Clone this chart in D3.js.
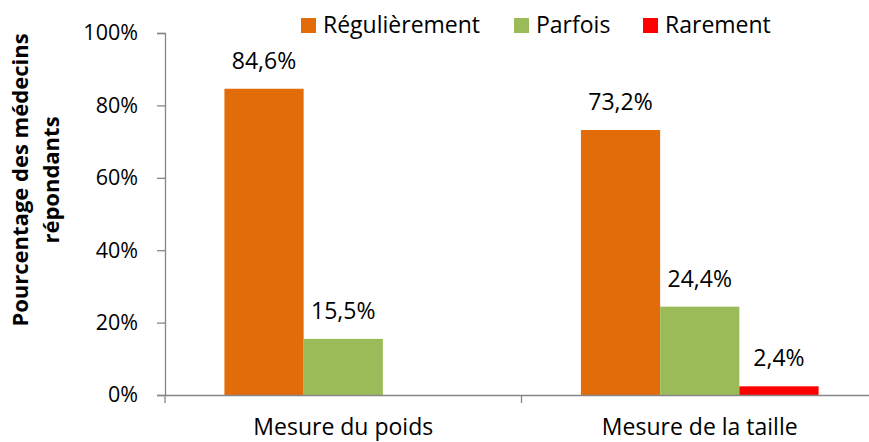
<!DOCTYPE html>
<html>
<head>
<meta charset="utf-8">
<script src="https://cdn.jsdelivr.net/npm/d3@7"></script>
<style>
  html, body { margin: 0; padding: 0; background: #fff; }
  svg { display: block; font-family: "Open Sans", "Noto Sans", sans-serif; }
</style>
</head>
<body>
<div id="chart"></div>
<script>
const categories = ['Mesure du poids', 'Mesure de la taille'];
const seriesNames = ['Régulièrement', 'Parfois', 'Rarement'];
const seriesColors = ['#E36C0A', '#9BBB59', '#FF0000'];
const regulierement = [84.6, 73.2];
const parfois = [15.5, 24.4];
const rarement = [null, 2.4];
const yTicks = [0, 20, 40, 60, 80, 100];

const width = 869, height = 442;
const margin = { top: 33, right: -9, bottom: 47, left: 165 };
const font = '"Open Sans", "Noto Sans", sans-serif';

const svg = d3.select('#chart').append('svg')
  .attr('width', width)
  .attr('height', height);

const values = [regulierement, parfois, rarement];
const rows = categories.map((c, i) => ({
  category: c,
  bars: seriesNames.map((s, j) => ({ series: s, value: values[j][i], color: seriesColors[j] }))
}));

const x0 = d3.scaleBand()
  .domain(categories)
  .range([margin.left, width - margin.right])
  .paddingInner(0)
  .paddingOuter(0);

const x1 = d3.scaleBand()
  .domain(seriesNames)
  .range([0, x0.bandwidth()])
  .paddingInner(0)
  .paddingOuter(0.75);

const y = d3.scaleLinear()
  .domain([0, 100])
  .range([height - margin.bottom, margin.top]);

// y axis
const yAxis = svg.append('g')
  .attr('transform', `translate(${margin.left},0)`)
  .call(d3.axisLeft(y).tickValues(yTicks).tickSize(8).tickPadding(19).tickFormat(d => d + '%'));
yAxis.select('.domain').attr('stroke', '#868686').attr('stroke-width', 1.3);
yAxis.selectAll('.tick line').attr('stroke', '#868686').attr('stroke-width', 1.3);
yAxis.selectAll('.tick text')
  .attr('font-size', '21.5px')
  .attr('fill', '#000')
  .attr('font-family', font);

// bars
const groups = svg.selectAll('.group')
  .data(rows)
  .enter()
  .append('g')
  .attr('class', 'group')
  .attr('transform', d => `translate(${x0(d.category)},0)`);

groups.selectAll('rect')
  .data(d => d.bars.filter(b => b.value != null))
  .enter()
  .append('rect')
  .attr('x', d => x1(d.series))
  .attr('width', x1.bandwidth())
  .attr('y', d => y(d.value))
  .attr('height', d => y(0) - y(d.value))
  .attr('fill', d => d.color);

groups.selectAll('.value')
  .data(d => d.bars.filter(b => b.value != null))
  .enter()
  .append('text')
  .attr('class', 'value')
  .attr('x', d => x1(d.series) + x1.bandwidth() / 2)
  .attr('y', d => y(d.value) - 20)
  .attr('text-anchor', 'middle')
  .attr('font-size', '23px')
  .attr('fill', '#000')
  .text(d => d3.format('.1f')(d.value).replace('.', ',') + '%');

// x axis
const xAxis = svg.append('g')
  .attr('transform', `translate(0,${y(0)})`)
  .call(d3.axisBottom(x0).tickSize(0).tickPadding(24));
xAxis.select('.domain').attr('stroke', '#868686').attr('stroke-width', 1.3);
xAxis.selectAll('.tick text')
  .attr('font-size', '23px')
  .attr('fill', '#000')
  .attr('font-family', font);
xAxis.selectAll('.sep')
  .data(categories)
  .enter()
  .append('line')
  .attr('class', 'sep')
  .attr('x1', d => x0(d))
  .attr('x2', d => x0(d))
  .attr('y1', 0)
  .attr('y2', 8)
  .attr('stroke', '#868686')
  .attr('stroke-width', 1.3);

// y title
const yTitle = svg.append('text')
  .attr('transform', 'translate(28,180) rotate(-90)')
  .attr('text-anchor', 'middle')
  .attr('font-size', '22px')
  .attr('font-weight', 'bold')
  .attr('fill', '#000');
yTitle.append('tspan').attr('x', 0).attr('dy', 0).text('Pourcentage des médecins');
yTitle.append('tspan').attr('x', 0).attr('dy', 31).text('répondants');

// legend
const legendX = [301, 514, 643];
const legend = svg.selectAll('.legend')
  .data(seriesNames)
  .enter()
  .append('g')
  .attr('class', 'legend')
  .attr('transform', (d, i) => `translate(${legendX[i]},18)`);
legend.append('rect')
  .attr('width', 15)
  .attr('height', 15)
  .attr('fill', (d, i) => seriesColors[i]);
legend.append('text')
  .attr('x', 22)
  .attr('y', 15)
  .attr('font-size', '23px')
  .attr('fill', '#000')
  .text(d => d);
</script>
</body>
</html>
